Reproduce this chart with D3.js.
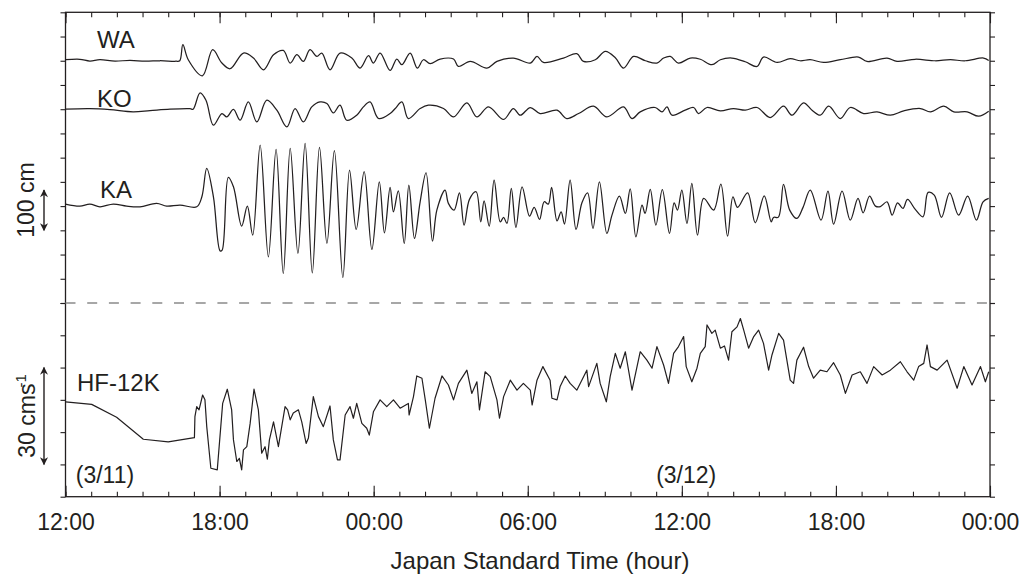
<!DOCTYPE html>
<html>
<head>
<meta charset="utf-8">
<script src="https://cdn.jsdelivr.net/npm/d3@7"></script>
<style>
  body { margin: 0; background: #fff; }
  text { font-family: "Liberation Sans", Arial, sans-serif; fill: #231f20; }
</style>
</head>
<body>
<svg id="chart" width="1024" height="577"></svg>
<script>
// time in hours after 12:00 JST on 3/11
// sea level (cm) at WA, KO, KA; HF radar current (cm/s)
var waTrace = [[0,2.5],[0.56,3.7],[0.95,-0.7],[1.34,2.5],[1.93,-1.2],[2.51,1.2],[3.10,-1.2],[3.68,0],[4.30,-1.2],[4.45,0],
  [4.57,39.7],[4.78,2.5],[5.33,-37.2],[5.73,27.3],[6.09,-5.7],[6.41,-19.8],[6.93,19.1],[7.32,6.7],[7.71,-22.3],[8.10,14.9],
  [8.48,25.5],[8.75,-5.7],[9.01,14.9],[9.26,-1.7],[9.52,27.3],[9.79,10.7],[9.98,19.1],[10.30,-22.3],[10.69,19.1],[11.15,6.7],
  [11.47,-18.1],[11.80,12.4],[11.99,-5.7],[12.25,19.1],[12.64,-24.1],[12.90,4.2],[13.10,-9.9],[13.42,19.1],[13.70,-18.1],[13.94,2.5],
  [14.20,-7.4],[14.59,4.2],[15.11,4.2],[15.30,-14.1],[15.76,-1.7],[16.41,-18.1],[16.80,-1.7],[17.44,6.7],[18.10,-5.7],[18.36,10.7],
  [18.61,-4.2],[19.39,6.7],[19.91,17.4],[20.17,-1.7],[20.63,2.5],[21.02,23.1],[21.41,7.4],[21.73,-18.1],[22.12,10.7],[22.58,0],
  [23.03,-5.7],[23.29,6.7],[23.55,10.7],[23.87,-5.7],[24.33,6.7],[24.72,3.7],[25.17,-9.9],[25.50,2.5],[25.95,6.7],[26.47,-2.5],
  [26.93,-14.1],[27.18,9.2],[27.71,-4.2],[28.22,5.0],[28.61,0],[29.00,2.5],[29.52,-4.2],[30.17,2.5],[30.88,9.2],[31.21,-1.7],
  [31.99,6.7],[32.38,-1.7],[33.09,3.7],[33.87,0],[34.46,2.5],[35.04,0],[35.75,6.7],[35.95,0.7]];

var koTrace = [[0,0],[0.95,1.2],[1.73,-1.2],[2.63,-6.7],[3.29,-3.7],[4.07,0],[4.85,1.2],[4.97,0],[5.24,40.4],[5.47,22.3],
  [5.76,-39.7],[6.09,-10.7],[6.28,-19.1],[6.54,-0.7],[6.80,-27.3],[7.12,18.1],[7.45,-31.5],[7.84,22.3],[8.23,-2.5],[8.62,-43.9],
  [8.94,1.7],[9.26,-31.5],[9.59,5.7],[9.91,18.1],[10.18,14.1],[10.43,-9.2],[10.69,9.9],[10.95,-27.3],[11.34,-14.9],[11.60,5.7],
  [11.86,18.1],[12.19,-23.1],[12.64,-10.7],[12.84,1.7],[13.10,18.1],[13.35,-23.1],[13.81,1.7],[14.13,9.9],[14.72,1.7],[15.11,-19.1],
  [15.63,15.6],[16.02,-19.1],[16.47,5.7],[17.06,-25.5],[17.44,1.7],[17.71,-14.9],[18.10,4.2],[18.48,-10.7],[19.14,-2.5],[19.52,-23.1],
  [19.98,-10.7],[20.56,7.4],[21.08,-19.1],[21.73,5.7],[22.06,-23.1],[22.38,-6.7],[22.96,4.2],[23.23,-6.7],[23.42,5.7],[23.62,-14.9],
  [24.13,-2.5],[24.46,4.2],[24.65,-10.7],[24.98,4.2],[25.50,-4.2],[26.01,1.7],[26.47,-2.5],[26.93,4.2],[27.44,-20.6],[27.96,7.4],
  [28.29,-14.9],[28.74,15.6],[29.07,-2.5],[29.39,-14.9],[29.72,7.4],[30.17,-23.1],[30.56,4.2],[31.08,-10.7],[31.60,-6.7],[32.12,-14.9],
  [32.64,-4.2],[33.29,1.7],[33.68,-6.7],[34.20,7.4],[34.59,-6.7],[35.11,-6.7],[35.56,-17.4],[35.95,-5.0]];

var kaTrace = [[0,5.0],[0.56,0],[0.95,5.0],[1.34,-1.7],[1.86,5.0],[2.38,0],[2.90,-1.7],[3.55,6.7],[3.94,0],[4.46,2.5],[5.11,-1.7],
  [5.31,23.1],[5.50,93.5],[5.76,23.1],[6.02,-110.9],[6.10,-109],[6.34,71.2],[6.54,47.9],[6.86,-49.6],[7.08,0],[7.29,-71.9],
  [7.58,151.3],[7.90,-125.7],[8.20,140.6],[8.48,-166.9],[8.75,143.1],[9.05,-117.3],[9.33,155.5],[9.61,-165.4],[9.89,145.6],[10.18,-92.5],
  [10.47,137.1],[10.80,-176.8],[11.06,89.3],[11.32,-57.8],[11.63,85.1],[11.93,-107.4],[12.22,60.3],[12.42,-66.2],[12.64,46.4],[12.77,-14.1],
  [12.96,37.9],[13.19,-92.5],[13.37,52.1],[13.59,-80.1],[13.81,10.7],[14.04,82.6],[14.29,-86.8],[14.46,-9.9],[14.78,39.7],[14.91,6.7],
  [15.13,-9.9],[15.34,33.0],[15.52,-47.1],[15.73,16.6],[15.99,35.5],[16.17,-38.9],[16.30,13.1],[16.50,-49.6],[16.69,64.5],[16.93,-38.9],
  [17.06,-28.0],[17.19,-42.9],[17.36,43.9],[17.54,-52.8],[17.78,47.9],[18.07,-24.8],[18.25,-3.2],[18.46,-33.0],[18.64,10.7],[18.80,5.0],
  [18.93,46.4],[19.14,-36.5],[19.30,-14.1],[19.43,-44.6],[19.65,64.5],[19.88,-57.8],[20.11,8.2],[20.33,33.0],[20.54,-55.3],[20.79,60.3],
  [21.08,-67.7],[21.28,-22.3],[21.57,24.8],[21.80,-18.1],[21.99,42.9],[22.21,-76.1],[22.45,2.5],[22.57,-18.1],[22.77,41.4],[22.99,-47.1],
  [23.24,40.9],[23.52,-67.7],[23.70,8.2],[23.83,-9.9],[24.00,39.7],[24.20,-42.9],[24.39,56.3],[24.61,-71.9],[24.85,19.1],[25.24,-9.9],
  [25.52,54.6],[25.78,-74.4],[25.99,23.1],[26.17,-3.2],[26.56,33.0],[26.86,-41.4],[27.21,25.5],[27.48,-38.9],[27.57,-28.0],[27.76,-27.3],
  [27.96,53.8],[28.20,-9.9],[28.48,-30.5],[28.72,-3.2],[29.00,39.7],[29.42,-34.7],[29.69,37.2],[29.91,-44.6],[30.24,37.2],[30.56,-34.7],
  [30.86,19.1],[31.06,-16.6],[31.31,24.8],[31.54,0],[31.73,-1.2],[31.99,10.7],[32.19,-22.3],[32.40,8.2],[32.61,-5.7],[32.79,16.6],
  [33.09,-8.2],[33.39,-26.5],[33.59,34.0],[33.83,27.3],[34.11,-28.0],[34.43,33.0],[34.78,-22.3],[35.13,24.8],[35.47,-34.7],[35.73,10.7],
  [35.95,19.1]];

var hfTrace = [[0,-0.6],[1.02,-1.4],[1.99,-5.4],[3.03,-12.2],[4.00,-13.0],[5.02,-11.7],[5.04,-5.2],[5.11,-2.1],[5.20,-3.1],[5.34,1.5],
  [5.43,0],[5.50,-8.3],[5.66,-21.2],[5.91,-21.7],[6.12,-1.1],[6.30,3.3],[6.47,-3.1],[6.54,-12.4],[6.67,-19.1],[6.77,-18.1],
  [6.86,-21.7],[6.93,-15.5],[7.06,-14.5],[7.19,-7.3],[7.34,3.3],[7.51,-3.1],[7.64,-16.5],[7.77,-14.5],[7.86,-18.4],[7.94,-12.4],
  [8.10,-6.8],[8.29,-14.5],[8.55,-2.1],[8.65,-3.1],[8.75,-6.2],[8.87,-4.1],[9.07,-3.1],[9.20,-6.8],[9.37,-13.5],[9.46,-11.8],
  [9.65,1.0],[9.85,-5.2],[10.04,-8.3],[10.30,-1.9],[10.43,-12.4],[10.59,-18.6],[10.69,-18.6],[10.89,-4.7],[11.08,-2.1],[11.21,-5.7],
  [11.34,-1.1],[11.54,-7.3],[11.73,-8.8],[11.83,-10.9],[11.99,-3.7],[12.25,0],[12.51,-2.1],[12.77,0],[13.03,-2.6],[13.35,-1.1],
  [13.38,-4.7],[13.55,1.0],[13.68,7.4],[13.88,6.7],[14.01,0],[14.17,-8.8],[14.39,0.5],[14.66,7.4],[14.91,4.6],[15.11,0],
  [15.30,5.1],[15.63,9.2],[15.82,2.0],[16.02,5.6],[16.12,-3.1],[16.34,8.7],[16.54,7.2],[16.80,0],[16.90,-5.7],[17.06,1.0],
  [17.32,6.1],[17.58,3.0],[17.83,5.1],[18.10,3.0],[18.17,-1.6],[18.36,6.1],[18.59,10.3],[18.87,6.1],[18.94,0.5],[19.14,0],
  [19.26,4.1],[19.46,7.4],[19.65,5.1],[19.91,3.0],[20.30,9.2],[20.37,4.1],[20.69,11.3],[20.82,5.1],[21.06,-0.6],[21.21,7.2],
  [21.41,14.4],[21.60,9.8],[21.80,14.9],[22.06,3.0],[22.38,14.9],[22.64,12.3],[22.84,9.8],[23.03,16.5],[23.29,10.8],[23.48,5.1],
  [23.68,14.4],[23.87,16.5],[24.07,19.6],[24.17,10.3],[24.39,5.6],[24.59,9.8],[24.72,14.4],[24.91,16.5],[24.98,23.2],[25.17,20.6],
  [25.30,21.6],[25.50,16.0],[25.66,16.7],[25.82,12.3],[25.95,21.1],[26.15,22.6],[26.28,25.2],[26.41,21.6],[26.60,16.0],[26.80,19.6],
  [26.99,21.6],[27.18,17.5],[27.38,9.2],[27.51,13.9],[27.77,20.6],[27.96,18.5],[28.22,6.1],[28.35,5.1],[28.48,12.3],[28.74,16.3],
  [28.94,10.3],[29.13,6.7],[29.39,9.2],[29.65,8.7],[29.91,11.5],[30.17,7.7],[30.37,2.0],[30.63,7.7],[30.95,8.7],[31.21,5.1],
  [31.47,10.3],[31.80,7.7],[32.12,9.2],[32.51,11.8],[32.77,8.7],[33.03,6.1],[33.22,10.3],[33.42,11.3],[33.55,17.0],[33.68,10.3],
  [33.94,9.2],[34.33,12.3],[34.72,3.6],[34.98,10.3],[35.30,4.6],[35.63,10.3],[35.82,5.6],[35.95,8.7]];

var stationNames = ["WA", "KO", "KA"];
var stationOffsets = [600, 480, 240];     // cm, baseline of each trace in the upper panel
var tickLabels = ["12:00", "18:00", "00:00", "06:00", "12:00", "18:00", "00:00"];
var dateLabels = ["(3/11)", "(3/12)"];
var dateHours = [0.4, 23.0];

var ink = "#231f20";
var svg = d3.select("#chart");

var x = d3.scaleLinear().domain([0, 36]).range([65.5, 990]);
var yTop = d3.scaleLinear().domain([0, 720]).range([303, 12.3]);
var yBot = d3.scaleLinear().domain([-30, 30]).range([496.7, 303]);

function addAxis(axis, tx, ty) {
  var g = svg.append("g")
    .attr("transform", "translate(" + tx + "," + ty + ")")
    .call(axis);
  g.select(".domain").remove();
  g.selectAll("line").attr("stroke", ink).attr("stroke-width", 1.1);
  g.attr("font-family", null).attr("font-size", null);
  return g;
}

var hours = d3.range(0, 37, 1);
var sixHours = d3.range(0, 37, 6);

// bottom and top: hourly ticks pointing in, longer ones every 6 h
addAxis(d3.axisBottom(x).tickValues(hours).tickSize(-5).tickFormat(""), 0, 496.7);
var bottom = addAxis(d3.axisBottom(x).tickValues(sixHours).tickSize(-11).tickPadding(17)
  .tickFormat(function(d, i) { return tickLabels[i]; }), 0, 496.7);
bottom.selectAll("text").attr("font-size", 23).attr("fill", ink);
addAxis(d3.axisTop(x).tickValues(hours).tickSize(-5).tickFormat(""), 0, 12.3);
addAxis(d3.axisTop(x).tickValues(sixHours).tickSize(-11).tickFormat(""), 0, 12.3);

// left and right ticks point out
addAxis(d3.axisLeft(yTop).tickValues(d3.range(0, 721, 60)).tickSize(5).tickFormat(""), 65.5, 0);
addAxis(d3.axisLeft(yBot).tickValues(d3.range(-30, 31, 10)).tickSize(5).tickFormat(""), 65.5, 0);
addAxis(d3.axisRight(yTop).tickValues(d3.range(0, 721, 60)).tickSize(5).tickFormat(""), 990, 0);
addAxis(d3.axisRight(yBot).tickValues(d3.range(-30, 31, 10)).tickSize(5).tickFormat(""), 990, 0);

svg.append("rect")
  .attr("x", x(0)).attr("y", yTop(720))
  .attr("width", x(36) - x(0)).attr("height", yBot(-30) - yTop(720))
  .attr("fill", "none").attr("stroke", ink).attr("stroke-width", 1.3);

svg.append("line")
  .attr("x1", x(0)).attr("x2", x(36))
  .attr("y1", yBot(30)).attr("y2", yBot(30))
  .attr("stroke", "#8a8a8a").attr("stroke-width", 1.4)
  .attr("stroke-dasharray", "10,11.7");

// traces
var traces = [waTrace, koTrace, kaTrace];
traces.forEach(function(tr, i) {
  var off = stationOffsets[i];
  var line = d3.line()
    .x(function(d) { return x(d[0]); })
    .y(function(d) { return yTop(off + d[1]); })
    .curve(d3.curveCatmullRom.alpha(0.5));
  svg.append("path").datum(tr)
    .attr("d", line)
    .attr("fill", "none").attr("stroke", ink).attr("stroke-width", 1.25);
});

var hfLine = d3.line()
  .x(function(d) { return x(d[0]); })
  .y(function(d) { return yBot(d[1]); });
svg.append("path").datum(hfTrace)
  .attr("d", hfLine)
  .attr("fill", "none").attr("stroke", ink).attr("stroke-width", 1.2)
  .attr("stroke-linejoin", "round");

// station labels
var labelPos = [[97, 48.3], [97, 106.7], [100, 197.7]];
stationNames.forEach(function(n, i) {
  svg.append("text").attr("x", labelPos[i][0]).attr("y", labelPos[i][1])
    .attr("font-size", 24).text(n);
});
svg.append("text").attr("x", 77).attr("y", 390.7).attr("font-size", 24).text("HF-12K");

dateLabels.forEach(function(d, i) {
  svg.append("text").attr("x", x(dateHours[i])).attr("y", 483)
    .attr("font-size", 23).text(d);
});

svg.append("text").attr("x", 540).attr("y", 569)
  .attr("text-anchor", "middle").attr("font-size", 24)
  .text("Japan Standard Time (hour)");

// scale arrows
var defs = svg.append("defs");
defs.append("marker").attr("id", "head")
  .attr("viewBox", "0 0 10 10").attr("refX", 9).attr("refY", 5)
  .attr("markerWidth", 9).attr("markerHeight", 8)
  .attr("markerUnits", "userSpaceOnUse")
  .attr("orient", "auto-start-reverse")
  .append("path").attr("d", "M0,0 L10,5 L0,10 L3,5 Z").attr("fill", ink);

function scaleArrow(y1, y2) {
  svg.append("line").attr("x1", 44).attr("x2", 44)
    .attr("y1", y1).attr("y2", y2)
    .attr("stroke", ink).attr("stroke-width", 1.4)
    .attr("marker-start", "url(#head)").attr("marker-end", "url(#head)");
}
scaleArrow(yTop(180), yTop(280));
scaleArrow(yBot(-20), yBot(10));

svg.append("text")
  .attr("transform", "translate(34," + ((yTop(180) + yTop(280)) / 2 - 10) + ") rotate(-90)")
  .attr("text-anchor", "middle").attr("font-size", 23)
  .text("100 cm");

var vel = svg.append("text")
  .attr("transform", "translate(35," + ((yBot(-20) + yBot(10)) / 2) + ") rotate(-90)")
  .attr("text-anchor", "middle").attr("font-size", 23);
vel.append("tspan").text("30 cms");
vel.append("tspan").attr("font-size", 15).attr("dy", -9).attr("dx", -4).text("-1");
</script>
</body>
</html>
